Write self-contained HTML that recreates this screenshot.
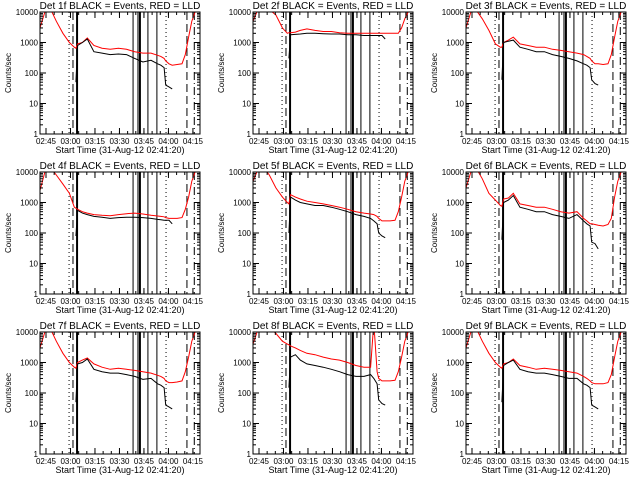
<!DOCTYPE html>
<html><head><meta charset="utf-8"><style>
html,body{margin:0;padding:0;background:#fff;}
svg{display:block;font-family:"Liberation Sans",sans-serif;}
</style></head><body>
<svg id="chart" width="640" height="480" viewBox="0 0 640 480" xmlns="http://www.w3.org/2000/svg"></svg>
<script>
// minutes since 02:41:20
const times = [0,3,6,10,14,18,21,22,23,26,29,33,38,43,48,53,58,63,68,72,74,76,77,79,81,84,87,89,91,93,95,97];
const detNames = ["1f","2f","3f","4f","5f","6f","7f","8f","9f"];
const red1 = [3000,10000,14000,5000,2000,1000,700,650,900,1000,1400,800,650,600,650,600,500,450,450,380,350,300,250,200,180,190,200,400,1500,5000,10000,14000];
const blk1 = [null,null,null,null,null,null,null,50,800,1000,1300,500,450,400,420,400,300,230,260,200,180,150,40,35,30,null,null,null,null,null,null,null];
const red2 = [5000,12000,15000,12000,8000,3000,2000,2100,2100,2200,2500,2800,2500,2300,2300,2100,2000,2000,2000,2000,2000,2000,2000,2000,2000,2000,2000,2000,3000,6000,10000,14000];
const blk2 = [null,null,null,null,null,null,null,300,1800,1850,1900,2000,2000,1950,1900,1900,1800,1800,1700,1700,1700,1700,1700,1700,1300,null,null,null,null,null,null,null];
const red3 = [3000,10000,12000,6000,2500,900,700,700,1000,1200,1500,900,800,700,700,600,550,500,450,400,350,300,250,200,200,190,200,400,1500,5000,10000,14000];
const blk3 = [null,null,null,null,null,null,null,60,1000,1100,1200,700,600,500,500,400,350,300,250,200,180,150,60,45,40,null,null,null,null,null,null,null];
const red4 = [2500,10000,15000,8000,4000,2000,700,650,600,500,450,400,380,370,400,430,450,420,380,360,350,340,320,300,300,300,320,600,1500,5000,10000,14000];
const blk4 = [null,null,null,null,null,null,null,80,550,450,400,350,330,300,320,330,330,320,300,280,270,260,260,260,200,null,null,null,null,null,null,null];
const red5 = [5000,12000,15000,8000,3000,1500,1000,900,1800,1500,1300,1100,1000,900,800,700,600,500,450,420,400,350,300,250,250,250,260,500,1500,5000,10000,14000];
const blk5 = [null,null,null,null,null,null,null,100,1500,1200,1000,900,800,800,700,600,500,400,350,300,250,200,100,80,70,null,null,null,null,null,null,null];
const red6 = [3000,10000,14000,6000,2000,1200,800,750,1300,1400,2000,900,800,700,700,600,500,450,500,300,250,200,200,190,180,170,190,300,1500,5000,10000,14000];
const blk6 = [null,null,null,null,null,null,null,60,1000,1200,1700,700,600,500,500,400,350,300,400,250,200,170,50,45,30,null,null,null,null,null,null,null];
const red7 = [3000,10000,14000,5000,2000,1000,700,650,1000,1200,1400,900,700,600,650,600,550,500,450,380,350,300,250,220,220,230,250,500,1500,5000,10000,14000];
const blk7 = [null,null,null,null,null,null,null,50,900,1000,1300,600,500,450,450,400,350,280,300,200,180,150,40,35,30,null,null,null,null,null,null,null];
const red8 = [4000,12000,15000,14000,9000,5000,4000,3800,3500,3000,2500,2000,1800,1500,1300,1200,1000,800,700,700,20000,500,300,250,250,250,260,500,1500,5000,10000,14000];
const blk8 = [null,null,null,null,null,null,null,150,1500,1800,1200,900,800,700,600,500,400,350,350,400,300,200,60,45,40,null,null,null,null,null,null,null];
const red9 = [3000,10000,14000,5000,2000,1000,700,650,900,1000,1300,800,700,600,650,600,550,500,450,350,300,250,220,200,200,200,220,400,1500,5000,10000,14000];
const blk9 = [null,null,null,null,null,null,null,50,800,1000,1200,600,500,450,450,400,350,300,300,200,180,150,40,35,30,null,null,null,null,null,null,null];
const redSeries = [red1,red2,red3,red4,red5,red6,red7,red8,red9];
const blkSeries = [blk1,blk2,blk3,blk4,blk5,blk6,blk7,blk8,blk9];
const xTickLabels = ["02:45","03:00","03:15","03:30","03:45","04:00","04:15"];
const xTickTimes = [3.67,18.67,33.67,48.67,63.67,78.67,93.67];
const yTickLabels = ["1","10","100","1000","10000"];
const yTickValues = [1,10,100,1000,10000];
// event markers (minutes)
const markerTimes = [17.8,20.2,22.7,57,60,61.2,66.1,71.6,77.2,90,94.5];
const markerStyles = ["dot","dash","thick","solid","solid","thick","solid","solid","dot","dash","dashdot"];

const NS="http://www.w3.org/2000/svg";
const svg=document.getElementById('chart');
function mk(tag,attrs,parent){const e=document.createElementNS(NS,tag);for(const k in attrs)e.setAttribute(k,attrs[k]);(parent||svg).appendChild(e);return e;}
const L=40,R=200,T=12,B=134,TMAX=98;
function xs(t){return L+(t/TMAX)*(R-L);}
function ys(v){return B-Math.log10(v)*(B-T)/4;}

for(let p=0;p<9;p++){
  const ox=(p%3)*213, oy=Math.floor(p/3)*160;
  const g=mk('g',{transform:`translate(${ox},${oy})`});
  
  
  const cid='clip'+p;
  const cp=mk('clipPath',{id:cid},g); mk('rect',{x:L,y:T,width:R-L,height:B-T},cp);
  for(let i=0;i<markerTimes.length;i++){
    const x=xs(markerTimes[i]); const st=markerStyles[i];
    const a={x1:x,x2:x,y1:T,y2:B,stroke:'#000','stroke-width':st==='thick'?2:1};
    if(st==='dot')a['stroke-dasharray']='1,3';
    if(st==='dash')a['stroke-dasharray']='8,4';
    if(st==='dashdot')a['stroke-dasharray']='8,3,1,3';
    const ln=mk('line',a,g);
    
    
  }
  [[redSeries[p],'#f00','lld-series'],[blkSeries[p],'#000','events-series']].forEach(([arr,col,nm])=>{
    let d='';let pen=false;
    for(let i=0;i<times.length;i++){
      if(arr[i]==null){pen=false;continue;}
      d+=(pen?'L':'M')+xs(times[i]).toFixed(1)+','+ys(arr[i]).toFixed(1);pen=true;
    }
    const pth=mk('path',{d:d,fill:'none',stroke:col,'stroke-width':1,'clip-path':`url(#${cid})`},g);
    
    
  });
  const box=mk('rect',{x:L,y:T,width:R-L,height:B-T,fill:'none',stroke:'#000','stroke-width':1},g);
  
  
  for(let i=0;i<yTickValues.length;i++){
    const y=ys(yTickValues[i]);
    mk('line',{x1:L,x2:L+6,y1:y,y2:y,stroke:'#000'},g);
    mk('line',{x1:R,x2:R-6,y1:y,y2:y,stroke:'#000'},g);
    const tx=mk('text',{x:L-2,y:y+3,'font-size':8,'text-anchor':'end'},g);
    tx.textContent=yTickLabels[i];
    
    
    if(i<yTickValues.length-1){for(let m=2;m<10;m++){const ym=ys(yTickValues[i]*m);
      mk('line',{x1:L,x2:L+3,y1:ym,y2:ym,stroke:'#000'},g);mk('line',{x1:R,x2:R-3,y1:ym,y2:ym,stroke:'#000'},g);}}
  }
  for(let i=0;i<xTickTimes.length;i++){
    const x=xs(xTickTimes[i]);
    mk('line',{x1:x,x2:x,y1:B,y2:B-6,stroke:'#000'},g);
    mk('line',{x1:x,x2:x,y1:T,y2:T+6,stroke:'#000'},g);
    const tx=mk('text',{x:x,y:B+10,'font-size':8,'text-anchor':'middle'},g);
    tx.textContent=xTickLabels[i];
    
    
  }
  for(let t=3.67;t<TMAX;t+=5){const x=xs(t);mk('line',{x1:x,x2:x,y1:B,y2:B-3,stroke:'#000'},g);mk('line',{x1:x,x2:x,y1:T,y2:T+3,stroke:'#000'},g);}
  const ttl=mk('text',{x:120,y:9,'font-size':10,'text-anchor':'middle'},g);
  ttl.textContent='Det '+detNames[p]+' BLACK = Events, RED = LLD';
  
  
  const xl=mk('text',{x:120,y:B+19,'font-size':9,'text-anchor':'middle'},g);
  xl.textContent='Start Time (31-Aug-12 02:41:20)';
  
  
  const yl=mk('text',{x:11,y:73,'font-size':8,'text-anchor':'middle',transform:'rotate(-90 11 73)'},g);
  yl.textContent='Counts/sec';
  
  
}
</script>
</body></html>
